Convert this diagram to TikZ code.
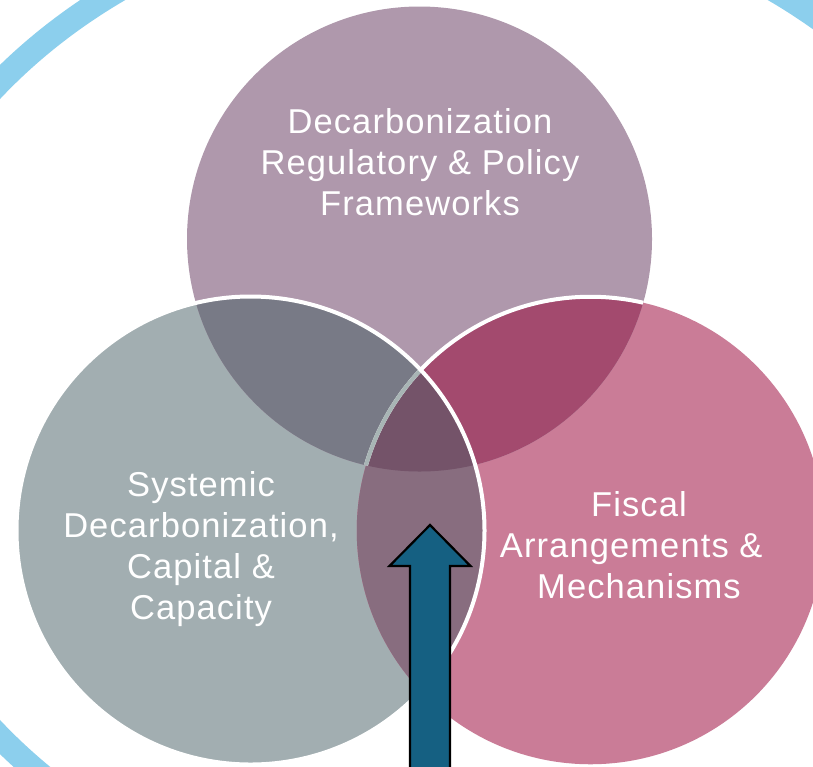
\documentclass[tikz,border=0pt]{standalone}
\usepackage{fontspec}
\setmainfont[LetterSpace=3.2]{Liberation Sans}
\definecolor{ringblue}{HTML}{8CCFED}
\definecolor{topc}{HTML}{AF98AC}
\definecolor{leftc}{HTML}{A2AEB1}
\definecolor{rightc}{HTML}{CA7C97}
\definecolor{tl}{HTML}{787A86}
\definecolor{tr}{HTML}{A34A6E}
\definecolor{lr}{HTML}{886D7F}
\definecolor{tlr}{HTML}{745369}
\definecolor{palec}{HTML}{A8B5B5}
\definecolor{arrowc}{HTML}{156082}
\tikzset{
  label text/.style={text=white,align=center,font=\fontsize{34.5}{41}\selectfont,inner sep=0pt}
}
\newcommand{\topcirc}{(419.5,239) circle[radius=232.5]}
\newcommand{\leftcirc}{(250.5,530.5) circle[radius=234]}
\newcommand{\rightcirc}{(590.5,530.5) circle[radius=233.75]}
\begin{document}
\begin{tikzpicture}[x=1pt,y=-1pt]
\useasboundingbox (0,0) rectangle (813,766);
\clip (0,0) rectangle (813,766);
\fill[white] (0,0) rectangle (813,766);
\fill[ringblue,even odd rule] (446.5,409.5) ellipse[x radius=598,y radius=518]
  (446.5,409.5) ellipse[x radius=574,y radius=494];
\fill[leftc] \leftcirc;
\fill[rightc] \rightcirc;
\fill[topc] \topcirc;
\begin{scope}\clip \topcirc; \fill[tl] \leftcirc; \end{scope}
\begin{scope}\clip \topcirc; \fill[tr] \rightcirc; \end{scope}
\begin{scope}\clip \leftcirc; \fill[lr] \rightcirc; \end{scope}
\begin{scope}\clip \topcirc; \clip \leftcirc; \fill[tlr] \rightcirc; \end{scope}
\begin{scope}\clip \topcirc; \draw[white,line width=4pt] \rightcirc; \end{scope}
\begin{scope}\clip \topcirc; \clip \leftcirc; \draw[palec,line width=4pt] \rightcirc; \end{scope}
\draw[white,line width=4pt] \leftcirc;
\node[label text] (toplabel) at (420,162) {Decarbonization\\Regulatory \& Policy\\Frameworks};
\node[label text] (leftlabel) at (201,549) {Systemic\\Decarbonization,\\Capital \&\\Capacity};
\node[label text] (rightlabel) at (639,545) {Fiscal\\Arrangements \&\hspace*{0.45em}\mbox{}\\Mechanisms};
\draw[fill=arrowc,draw=black,line width=2.2pt,line join=miter]
  (410,790) -- (410,566) -- (389.5,566) -- (430,525) -- (470.5,566) -- (450,566) -- (450,790) -- cycle;
\end{tikzpicture}
\end{document}
